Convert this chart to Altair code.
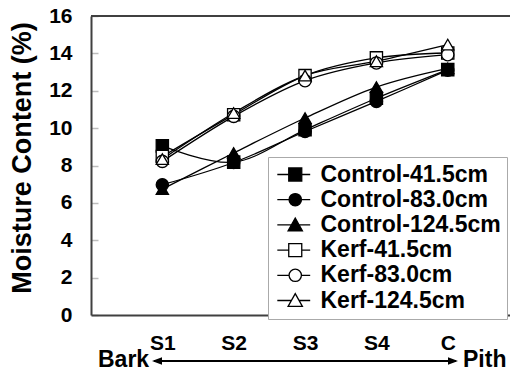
import altair as alt
import pandas as pd

positions = ["S1", "S2", "S3", "S4", "C"]
series = ["Control-41.5cm", "Control-83.0cm", "Control-124.5cm",
          "Kerf-41.5cm", "Kerf-83.0cm", "Kerf-124.5cm"]
control_41 = [9.05, 8.18, 9.91, 11.60, 13.13]
control_83 = [6.97, 8.16, 9.82, 11.43, 13.10]
control_124 = [6.74, 8.67, 10.54, 12.20, 13.20]
kerf_41 = [8.48, 10.72, 12.81, 13.76, 14.02]
kerf_83 = [8.22, 10.63, 12.54, 13.49, 13.93]
kerf_124 = [8.34, 10.81, 12.81, 13.58, 14.47]
ends = ["Bark", "Pith"]

values = [control_41, control_83, control_124, kerf_41, kerf_83, kerf_124]
rows = []
for s, vals in zip(series, values):
    for p, v in zip(positions, vals):
        rows.append({"series": s, "pos": p, "mc": v})
df = pd.DataFrame(rows)

FONT = "Liberation Sans"
FRAME = "#404040"
W, H = 419, 299
marker_shapes = ["square", "circle", "triangle-up", "square", "circle", "triangle-up"]
fills = ["black", "black", "black", "white", "white", "white"]
strokes = ["black"] * 6

m = 1.5
L, R = -1.26, 3.8
sq = f"M{L},0H{m-1}M{m+1},0H{R}M{m-1},-1H{m+1}V1H{m-1}Z"
ci = (f"M{L},0H{m-0.95}M{m+0.95},0H{R}M{m-0.95},0"
      f"A0.95,0.95,0,1,1,{m+0.95},0A0.95,0.95,0,1,1,{m-0.95},0Z")
tr = f"M{L},0H{m-0.59}M{m+0.59},0H{R}M{m},-1.05L{m+1.1},0.9L{m-1.1},0.9Z"
legend_shapes = [sq, ci, tr, sq, ci, tr]

x_enc = alt.X("pos:N", sort=positions,
              scale=alt.Scale(type="point", padding=0.936, align=0.534, domain=positions),
              axis=alt.Axis(title=None, ticks=False, tickSize=0, domain=True,
                            domainColor=FRAME, domainWidth=2, grid=False,
                            labelFont=FONT, labelFontWeight="bold", labelFontSize=21,
                            labelColor="black", labelPadding=17, labelAngle=0))
y_enc = alt.Y("mc:Q", scale=alt.Scale(domain=[0, 16], nice=False, zero=True),
              axis=alt.Axis(values=list(range(0, 17, 2)), title="Moisture Content (%)",
                            ticks=False, tickSize=0, domain=True,
                            domainColor=FRAME, domainWidth=2, grid=True,
                            gridDash=[7, 3000], gridColor="#bdbdbd", gridWidth=1.5,
                            labelFont=FONT, labelFontWeight="bold", labelFontSize=21,
                            labelColor="black", labelPadding=19,
                            titleFont=FONT, titleFontWeight="bold", titleFontSize=27,
                            titleColor="black", titleAngle=270, titleAlign="center",
                            titleBaseline="alphabetic", titleX=-61, titleY=141.5))

base = alt.Chart(df)

lines = base.mark_line(interpolate="cardinal", color="black", strokeWidth=1.3).encode(
    x=x_enc, y=y_enc, detail="series:N")

points = base.mark_point(filled=True, size=150, stroke="black", strokeWidth=1.3,
                         opacity=1).encode(
    x=x_enc, y=y_enc,
    shape=alt.Shape("series:N", scale=alt.Scale(domain=series, range=marker_shapes), legend=None),
    fill=alt.Fill("series:N", scale=alt.Scale(domain=series, range=fills), legend=None))

leg = alt.Legend(title=None, orient="none", legendX=177, legendY=141,
                 fillColor="white", strokeColor="#aaaaaa", padding=6,
                 labelFont=FONT, labelFontWeight="bold", labelFontSize=23,
                 labelColor="black", labelOffset=23.5, rowPadding=1.2,
                 symbolSize=169, symbolStrokeWidth=1.3,
                 symbolOpacity=1, labelLimit=400)

legend_layer = base.transform_filter("false").mark_point(
    filled=True, strokeWidth=1.3).encode(
    x=x_enc, y=y_enc,
    shape=alt.Shape("series:N", scale=alt.Scale(domain=series, range=legend_shapes), legend=leg),
    fill=alt.Fill("series:N", scale=alt.Scale(domain=series, range=fills), legend=leg),
    stroke=alt.Stroke("series:N", scale=alt.Scale(domain=series, range=strokes), legend=leg))

ann_df = pd.DataFrame({"label": ends})
top_line = alt.Chart(ann_df).transform_filter(
    alt.datum.label == "Bark").mark_rule(color=FRAME, strokeWidth=2).encode(
    x=alt.value(0), x2=alt.value(W), y=alt.value(0))

TY = 344
bark = alt.Chart(ann_df).transform_filter(alt.datum.label == "Bark").mark_text(
    font=FONT, fontWeight="bold", fontSize=23, color="black", align="left",
    baseline="middle").encode(x=alt.value(7), y=alt.value(TY), text="label:N")
pith = alt.Chart(ann_df).transform_filter(alt.datum.label == "Pith").mark_text(
    font=FONT, fontWeight="bold", fontSize=23, color="black", align="left",
    baseline="middle").encode(x=alt.value(372), y=alt.value(TY), text="label:N")
arrow_line = alt.Chart(ann_df).transform_filter(alt.datum.label == "Bark").mark_rule(
    color="black", strokeWidth=2).encode(
    x=alt.value(63), x2=alt.value(365), y=alt.value(TY + 1))
head_l = alt.Chart(ann_df).transform_filter(alt.datum.label == "Bark").mark_point(
    shape="M-1,0L1,-0.75L1,0.75Z", filled=True, color="black", size=100, opacity=1).encode(
    x=alt.value(66), y=alt.value(TY + 1))
head_r = alt.Chart(ann_df).transform_filter(alt.datum.label == "Bark").mark_point(
    shape="M1,0L-1,-0.75L-1,0.75Z", filled=True, color="black", size=100, opacity=1).encode(
    x=alt.value(362), y=alt.value(TY + 1))

chart = alt.layer(lines, points, legend_layer, top_line, bark, pith, arrow_line,
                  head_l, head_r).resolve_scale(
    shape="independent", fill="independent", stroke="independent"
).properties(
    width=W, height=H,
    autosize=alt.AutoSizeParams(type="none"),
    padding={"left": 83, "top": 8, "right": 0, "bottom": 57},
    background="white",
).configure_view(stroke=None)

chart.save("out.html", embed_options={"renderer": "svg", "actions": False})
